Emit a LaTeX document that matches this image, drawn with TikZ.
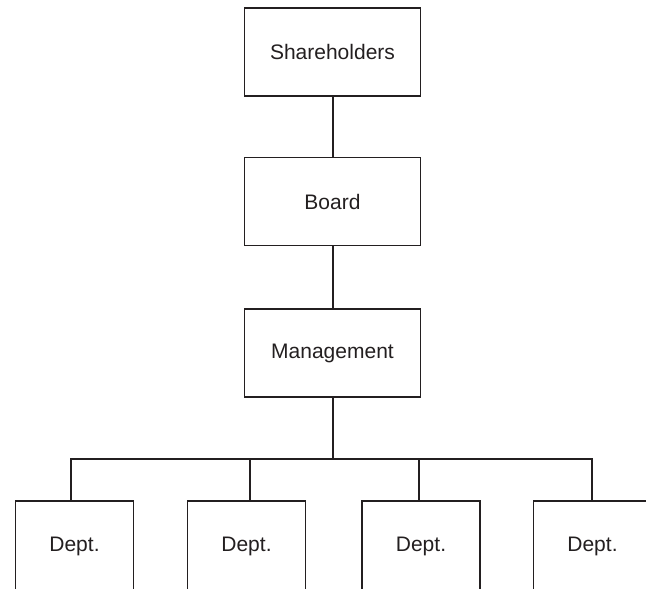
\documentclass[tikz,border=0pt]{standalone}
\usepackage{fontspec}
\setmainfont{Liberation Sans}
\definecolor{ink}{HTML}{231F20}
\begin{document}
\begin{tikzpicture}[x=1pt,y=-1pt,
  link/.style={draw=ink, line width=2pt},
  orgbox/.style={draw=ink, line width=1.7pt, rectangle, inner sep=0pt,
    minimum width=176pt, minimum height=88pt, text=ink,
    font=\fontsize{21}{25}\selectfont},
  deptbox/.style={orgbox, minimum width=118pt, minimum height=90pt}]
\useasboundingbox (0,0) rectangle (646,589);
\clip (0,0) rectangle (646,589);

% hierarchy
\node[orgbox] (sh) at (332.5,52) {Shareholders};
\node[orgbox] (bd) at (332.5,201.5) {Board};
\node[orgbox] (mg) at (332.5,353.3) {Management};

% departments
\node[deptbox] (d1) at (74.5,546) {Dept.};
\node[deptbox] (d2) at (246.5,546) {Dept.};
\node[deptbox] (d3) at (421,546) {Dept.};
\node[deptbox] (d4) at (592.5,546) {Dept.};

% branch points on the distribution bar
\coordinate (b1) at (71,459);
\coordinate (b2) at (250,459);
\coordinate (b3) at (419.3,459);
\coordinate (b4) at (591.7,459);

\draw[link] (sh) -- (bd);
\draw[link] (bd) -- (mg);
\draw[link] (mg.south) -- (mg.south |- b1);
\draw[link, line cap=rect] (b1) -- (b4);
\draw[link] (b1) -- (b1 |- d1.north);
\draw[link] (b2) -- (b2 |- d2.north);
\draw[link] (b3) -- (b3 |- d3.north);
\draw[link] (b4) -- (b4 |- d4.north);
\end{tikzpicture}
\end{document}
